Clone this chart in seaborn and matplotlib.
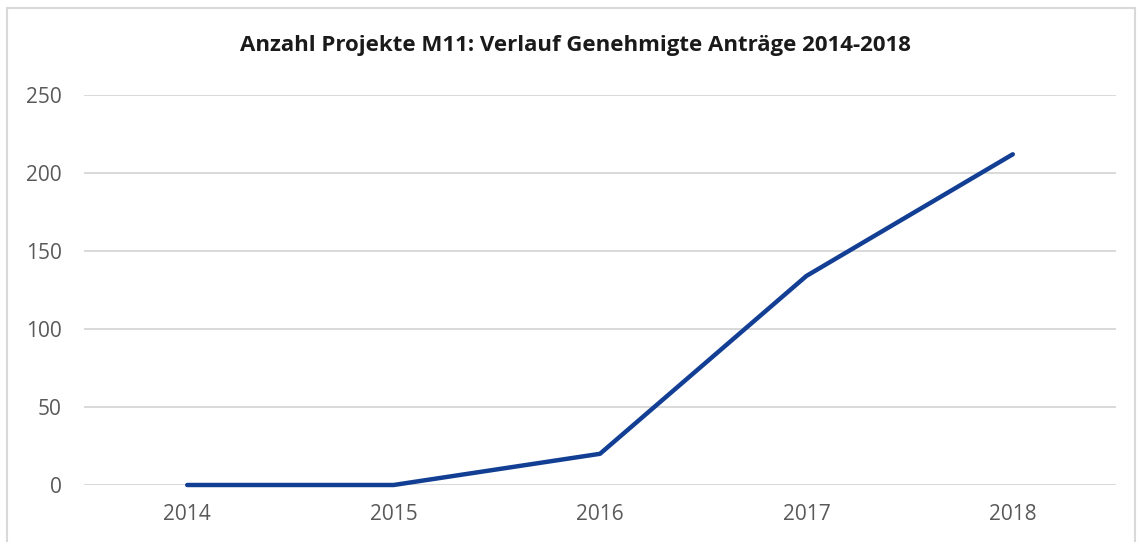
import matplotlib
matplotlib.use("Agg")
import matplotlib.pyplot as plt
import seaborn as sns
import pandas as pd
from matplotlib.patches import Rectangle

years = ["2014", "2015", "2016", "2017", "2018"]
approved = [0, 0, 20, 134, 212]
yticks = [0, 50, 100, 150, 200, 250]
title = "Anzahl Projekte M11: Verlauf Genehmigte Anträge 2014-2018"

sns.set_theme(style="white")
plt.rcParams['font.family'] = ['Open Sans', 'DejaVu Sans']

df = pd.DataFrame({"Jahr": years, "Anzahl": approved})

fig = plt.figure(figsize=(11.39, 5.42), dpi=100)
ax = fig.add_axes([84/1139, 1-485/542, (1116-84)/1139, (485-95)/542])

fig.patches.append(Rectangle((7/1139, -0.05), (1135-7)/1139, 1.05 - 8/542,
                             transform=fig.transFigure, fill=False,
                             edgecolor="#d9d9d9", linewidth=1.5))

for y in yticks:
    ax.axhline(y, color="#d9d9d9", linewidth=1.4, zorder=0)

sns.lineplot(data=df, x="Jahr", y="Anzahl", ax=ax, color="#123f94",
             linewidth=3.2, sort=False, clip_on=False,
             solid_capstyle="round", solid_joinstyle="round")

ax.set_xlim(-0.5, len(years) - 0.5)
ax.set_ylim(0, 250)
ax.set_yticks(yticks)
ax.set_xlabel("")
ax.set_ylabel("")
for s in ax.spines.values():
    s.set_visible(False)
ax.tick_params(axis="both", length=0, labelsize=15, labelcolor="#595959")
ax.tick_params(axis="y", pad=16)
ax.tick_params(axis="x", pad=14)

fig.text(575/1139, 1-45/542, title, ha="center", va="center",
         fontsize=16, fontweight="bold", color="#1a1a1a")

fig.savefig("out.png", dpi=100)
